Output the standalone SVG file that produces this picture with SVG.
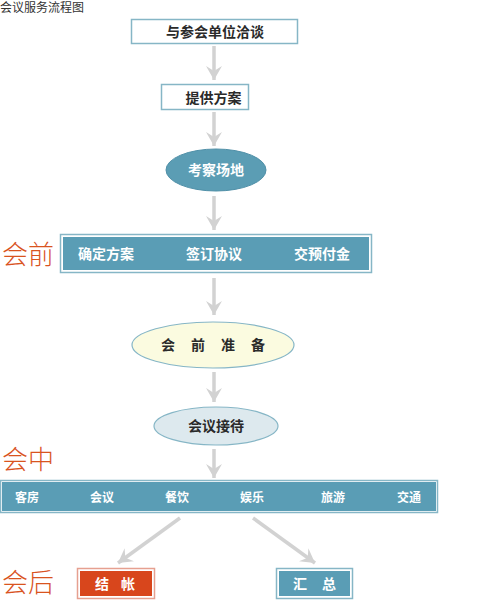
<svg xmlns="http://www.w3.org/2000/svg" width="477" height="603" viewBox="0 0 477 603">
<defs>
<marker id="ah" markerUnits="userSpaceOnUse" markerWidth="16" markerHeight="18" viewBox="0 -9 16 18" refX="14" refY="0" orient="auto">
<path d="M0,-8 L14,0 L0,8 L5,0 Z" fill="#d2d2d2"/>
</marker>
</defs>
<style>
.t{font-family:"Liberation Sans","Noto Sans CJK SC",sans-serif;}
.b{font-weight:bold;font-size:14px;text-anchor:middle;}
.w{fill:#ffffff;}
.d{fill:#2a2a2a;}
.s{font-size:12px;}
.stage{font-family:"Noto Sans CJK SC",sans-serif;font-size:26px;fill:#d9541f;font-weight:300;}
.frame{fill:#ffffff;stroke:#86b6c6;stroke-width:1.5;}
.teal{fill:#5a9db5;}
.conn{stroke:#d2d2d2;stroke-width:3.5;fill:none;marker-end:url(#ah);}
</style>
<rect width="477" height="603" fill="#ffffff"/>
<text class="t" x="0" y="12" font-size="12" fill="#333">会议服务流程图</text>

<g id="connectors">
<line class="conn" x1="214" y1="46" x2="214" y2="80"/>
<line class="conn" x1="214" y1="112" x2="214" y2="146"/>
<line class="conn" x1="214" y1="196" x2="214" y2="230"/>
<line class="conn" x1="214" y1="278" x2="214" y2="315"/>
<line class="conn" x1="214" y1="372" x2="214" y2="402"/>
<line class="conn" x1="214" y1="449" x2="214" y2="478"/>
<line class="conn" x1="180" y1="518" x2="118" y2="563"/>
<line class="conn" x1="253" y1="518" x2="315" y2="563"/>
</g>

<g id="n1">
<rect class="frame" x="131.5" y="19.5" width="166" height="24"/>
<text class="t b d" x="215" y="36.5">与参会单位洽谈</text>
</g>

<g id="n2">
<rect class="frame" x="161.5" y="84.5" width="87" height="25"/>
<text class="t b d" x="213.5" y="102.5">提供方案</text>
</g>

<g id="n3">
<ellipse cx="216" cy="170" rx="50" ry="21" fill="#5b9db4" stroke="#5090a8"/>
<text class="t b w" x="216" y="175">考察场地</text>
</g>

<g id="n4">
<text class="stage" x="2" y="264">会前</text>
<rect class="frame" x="60.5" y="234.5" width="311" height="38"/>
<rect class="teal" x="63" y="237" width="306" height="33"/>
<text class="t b w" x="106" y="259">确定方案</text>
<text class="t b w" x="214" y="259">签订协议</text>
<text class="t b w" x="322" y="259">交预付金</text>
</g>

<g id="n5">
<ellipse cx="213" cy="345" rx="81" ry="23" fill="#fbfbe0" stroke="#86b6c6" stroke-width="1.2"/>
<text class="t b d" x="168" y="350">会</text>
<text class="t b d" x="198" y="350">前</text>
<text class="t b d" x="228" y="350">准</text>
<text class="t b d" x="258" y="350">备</text>
</g>

<g id="n6">
<ellipse cx="216" cy="426" rx="62" ry="19" fill="#dde9ee" stroke="#86b6c6" stroke-width="1.2"/>
<text class="t b d" x="216" y="431">会议接待</text>
</g>

<g id="n7">
<text class="stage" x="2" y="469">会中</text>
<rect class="frame" x="0.5" y="480.5" width="437" height="32"/>
<rect class="teal" x="2" y="482" width="434" height="29"/>
<text class="t b w s" x="27" y="502">客房</text>
<text class="t b w s" x="102" y="502">会议</text>
<text class="t b w s" x="177" y="502">餐饮</text>
<text class="t b w s" x="252" y="502">娱乐</text>
<text class="t b w s" x="333" y="502">旅游</text>
<text class="t b w s" x="409" y="502">交通</text>
</g>

<g id="n8">
<text class="stage" x="2" y="592">会后</text>
<rect x="77.5" y="568.5" width="77" height="30" fill="#ffffff" stroke="#e6a090" stroke-width="1.5"/>
<rect x="80" y="571" width="72" height="25" fill="#d8461c"/>
<text class="t b w" x="102" y="589">结</text>
<text class="t b w" x="128" y="589">帐</text>
</g>

<g id="n9">
<rect class="frame" x="276.5" y="568.5" width="76" height="30"/>
<rect class="teal" x="279" y="571" width="71" height="25"/>
<text class="t b w" x="300" y="589">汇</text>
<text class="t b w" x="329" y="589">总</text>
</g>
</svg>
